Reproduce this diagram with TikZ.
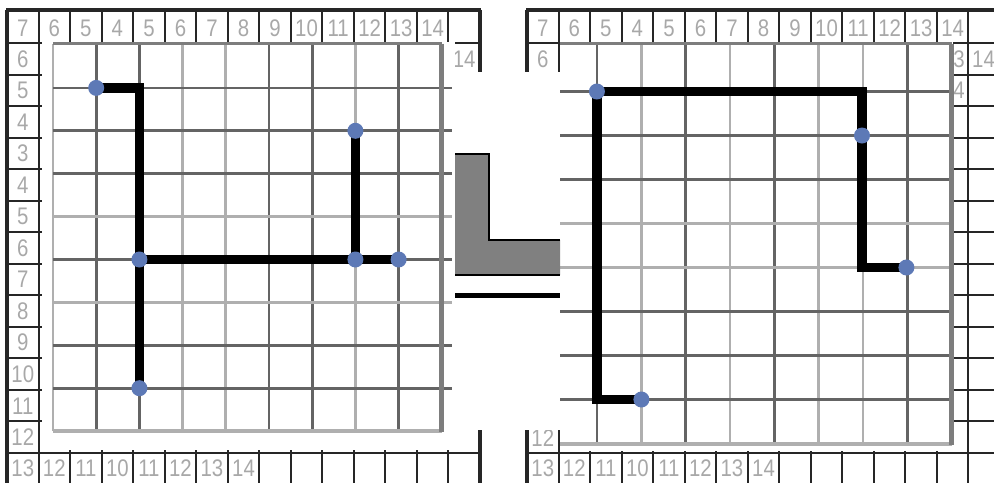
\documentclass[tikz,border=0pt]{standalone}
\usepackage{fontspec}
\setmainfont{Liberation Sans}
\newfontfamily\cellfont[FakeStretch=0.85]{Liberation Sans}
\usetikzlibrary{positioning}
\definecolor{numgray}{RGB}{168,168,168}
\definecolor{griddark}{RGB}{100,100,100}
\definecolor{gridlight}{RGB}{175,175,175}
\definecolor{gridedge}{RGB}{125,125,125}
\definecolor{pinblue}{RGB}{93,121,182}
\definecolor{blockgray}{RGB}{128,128,128}
\pgfdeclarelayer{front}
\pgfsetlayers{main,front}

\begin{document}
\begin{tikzpicture}[x=0.5pt,y=-0.5pt,
  tab/.style={line width=1pt,black!85},
  border/.style={line width=1.8pt,black!85},
  num/.style={text=numgray,font=\cellfont\fontsize{12}{12}\selectfont,inner sep=0pt},
  sheet/.style={fill=white,draw=none},
  gridln/.style={line width=1.4pt},
  route/.style={line width=4.6pt,line join=miter},
  pin/.style={circle,fill=pinblue,minimum size=8pt,inner sep=0pt}]
  \clip (0,0) rectangle (994,483);

  % the two number tables
  \foreach \ox in {7,527} {
    \foreach \i in {0,...,15}
      \draw[tab] ({\ox+31.53*\i},10) -- ({\ox+31.53*\i},483);
    \foreach \j in {1,...,14}
      \draw[tab] (\ox,{43+31.54*(\j-1)}) -- ({\ox+473},{43+31.54*(\j-1)});
    \draw[border] ({\ox-0.9},10) -- ({\ox+474},10);
    \draw[border] (\ox,10) -- (\ox,483);
  }
  \draw[border] (480,10) -- (480,483);

  \foreach \ox in {7,527}
    \foreach \t [count=\i from 0] in {7,6,5,4,5,6,7,8,9,10,11,12,13,14}
      \node[num] (top-\ox-\i) at ({\ox+31.53*\i+15.8},28) {\t};
  \foreach \ox in {7,527}
    \foreach \t [count=\i from 0] in {13,12,11,10,11,12,13,14}
      \node[num] (bot-\ox-\i) at ({\ox+31.53*\i+15.8},468.5) {\t};
  \foreach \t [count=\j from 1] in {6,5,4,3,4,5,6,7,8,9,10,11,12}
    \node[num] (side-\j) at (22.8,{43+31.54*(\j-1)+15.8}) {\t};
  \node[num] (rside-1) at (542.8,58.8) {6};
  \node[num] (rside-13) at (542.8,437.8) {12};
  \node[num] (lend-1) at (464.2,58.8) {14};
  \node[num] (rend-1) at (983.5,58.8) {14};

  % pasted sheets
  \fill[sheet] (42,42) rectangle (455,450);
  \fill[sheet] (455,72) rectangle (560,430);
  \fill[sheet] (560,42) rectangle (953,451);
  \node[num,anchor=west] (rcut-1) at (953,58.8) {3};
  \node[num,anchor=west] (rcut-2) at (953,90.3) {4};

  % left grid
  \foreach \k/\c in {0/gridlight,1/griddark,2/griddark,3/gridlight,4/gridlight,5/griddark,6/griddark,7/gridlight,8/griddark}
    \draw[gridln,\c] ({53+43.2*\k},43.5) -- ({53+43.2*\k},431);
  \draw[gridln,gridedge] (53,43.5) -- (441.8,43.5);
  \foreach \k/\c in {1/griddark,2/griddark,3/griddark,4/gridlight,5/griddark,6/gridlight,7/griddark,8/griddark}
    \draw[gridln,\c] (53,{45+42.9*\k}) -- (452,{45+42.9*\k});
  \draw[gridln,gridlight,line width=2pt] (53,431) -- (441.8,431);
  \draw[gridln,gridedge,line width=2.4pt] (441.8,43.5) -- (441.8,432);

  % right grid
  \foreach \k/\c in {1/griddark,2/gridlight,3/griddark,4/gridlight,5/griddark,6/gridlight,7/gridlight,8/griddark}
    \draw[gridln,\c] ({552.7+44.33*\k},43.5) -- ({552.7+44.33*\k},443.5);
  \draw[gridln,gridedge] (560,43.5) -- (951.7,43.5);
  \foreach \k/\c in {1/griddark,2/griddark,3/griddark,4/gridlight,5/gridlight,6/griddark,7/griddark,8/griddark}
    \draw[gridln,\c] (560,{47.5+44*\k}) -- (951.7,{47.5+44*\k});
  \draw[gridln,gridlight,line width=2pt] (560,443.5) -- (951.7,443.5);
  \draw[gridln,gridedge,line width=2.4pt] (951.7,43.5) -- (951.7,444.5);

  % block between the sheets
  \fill[blockgray] (455,154) -- (489,154) -- (489,240) -- (560,240) -- (560,275) -- (455,275) -- cycle;
  \draw[line width=0.8pt] (455,154) -- (489,154) -- (489,240) -- (560,240);
  \draw[line width=0.8pt] (455,275) -- (560,275);
  \draw[line width=2.6pt] (455,295.5) -- (560,295.5);

  % pins
  \begin{pgfonlayer}{front}
    \node[pin] (a1) at (96.2,87.9) {};
    \node[pin] (a2) at (139.4,259.5) {};
    \node[pin] (a3) at (139.4,388.2) {};
    \node[pin] (a4) at (355.4,130.8) {};
    \node[pin] (a5) at (355.4,259.5) {};
    \node[pin] (a6) at (398.6,259.5) {};
    \node[pin] (b1) at (596.9,91.5) {};
    \node[pin] (b2) at (862,135.5) {};
    \node[pin] (b3) at (906.4,267.5) {};
    \node[pin] (b4) at (641.4,399.5) {};
  \end{pgfonlayer}

  % left route
  \coordinate (a1c) at (139.4,87.9);
  \draw[route] (a1.center) -- (a1c) -- (a2.center) -- (a3.center);
  \draw[route] (a2.center) -- (a6.center);
  \draw[route] (a4.center) -- (a5.center);

  % right route
  \coordinate (b1c) at (862,91.5);
  \coordinate (b3c) at (862,267.5);
  \coordinate (b4c) at (596.9,399.5);
  \draw[route] (b4.center) -- (b4c) -- (b1.center) -- (b1c) -- (b2.center) -- (b3c) -- (b3.center);
\end{tikzpicture}
\end{document}
